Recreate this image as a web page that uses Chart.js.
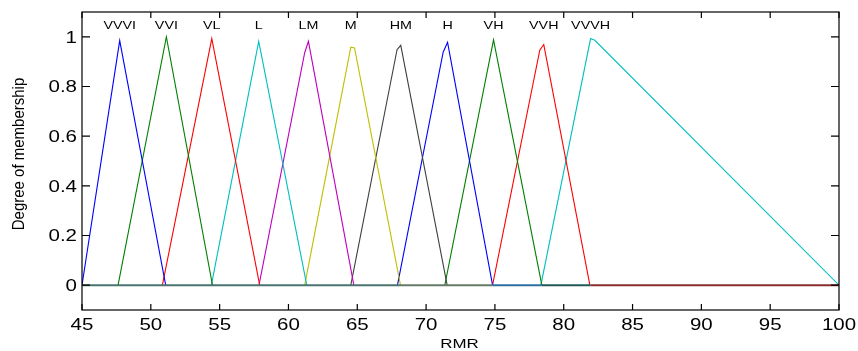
<!DOCTYPE html>
<html>
<head>
<meta charset="utf-8">
<script src="https://cdn.jsdelivr.net/npm/chart.js@4/dist/chart.umd.min.js"></script>
<style>
  html, body { margin: 0; padding: 0; background: #fff; }
  #wrap { width: 858px; height: 351px; }
</style>
</head>
<body>
<div id="wrap"><canvas id="c" width="858" height="351"></canvas></div>
<script>
// Membership functions over RMR (vertices of each piecewise-linear curve)
const mfNames = ['VVVI', 'VVI', 'VL', 'L', 'LM', 'M', 'HM', 'H', 'VH', 'VVH', 'VVVH'];

const vvviX = [45, 47.74, 51.08];          const vvviY = [0, 0.985, 0];
const vviX  = [47.62, 51.13, 54.48];       const vviY  = [0, 1.0, 0];
const vlX   = [50.84, 54.43, 57.91];       const vlY   = [0, 0.993, 0];
const lX    = [54.40, 57.84, 61.33];       const lY    = [0, 0.982, 0];
const lmX   = [57.86, 61.18, 61.45, 64.75]; const lmY  = [0, 0.936, 0.982, 0];
const mX    = [61.18, 64.53, 64.80, 68.14]; const mY   = [0, 0.958, 0.955, 0];
const hmX   = [64.53, 67.89, 68.16, 71.53]; const hmY  = [0, 0.948, 0.966, 0];
const hX    = [67.92, 71.24, 71.56, 74.83]; const hY   = [0, 0.938, 0.978, 0];
const vhX   = [71.36, 74.90, 78.41];       const vhY   = [0, 0.988, 0];
const vvhX  = [74.83, 78.26, 78.55, 81.90]; const vvhY = [0, 0.946, 0.969, 0];
const vvvhX = [78.34, 81.95, 82.26, 100];  const vvvhY = [0, 0.993, 0.986, 0];

const mfX = [vvviX, vviX, vlX, lX, lmX, mX, hmX, hX, vhX, vvhX, vvvhX];
const mfY = [vvviY, vviY, vlY, lY, lmY, mY, hmY, hY, vhY, vvhY, vvvhY];
const mfColors = ['#0000ff', '#008000', '#ff0000', '#00bfbf', '#bf00bf', '#bfbf00',
                  '#404040', '#0000ff', '#008000', '#ff0000', '#00bfbf'];

// Zero line where the curves overlap outside their supports
const baseX = [45, 68.1, 74.85, 78.4, 81.95, 100];
const baseColors = ['#4b7471', '#667a68', '#2d6fa5', '#1f5a55', '#8b2c2c'];

// Axis ticks
const xTicks = [45, 50, 55, 60, 65, 70, 75, 80, 85, 90, 95, 100];
const yTicks = [0, 0.2, 0.4, 0.6, 0.8, 1];
const yTickLabels = ['0', '0.2', '0.4', '0.6', '0.8', '1'];

const FONT = '"Liberation Sans", Arial, Helvetica, sans-serif';

const datasets = [{
  label: 'base',
  data: baseX.map(x => ({ x, y: 0 })),
  borderColor: baseColors[0],
  borderWidth: 2,
  pointRadius: 0,
  showLine: true,
  segment: { borderColor: c => baseColors[c.p0DataIndex] }
}];
mfNames.forEach((name, i) => {
  datasets.push({
    label: name,
    data: mfX[i].map((x, k) => ({ x, y: mfY[i][k] })),
    borderColor: mfColors[i],
    borderWidth: 1.1,
    pointRadius: 0,
    showLine: true,
    tension: 0
  });
});

function stretchedText(ctx, text, x, y, font, align, sx) {
  ctx.save();
  ctx.translate(x, y);
  ctx.scale(sx, 1);
  ctx.font = font;
  ctx.textAlign = align;
  ctx.textBaseline = 'alphabetic';
  ctx.fillText(text, 0, 0);
  ctx.restore();
}

const frame = {
  id: 'frame',
  beforeDraw(chart) {
    const ctx = chart.ctx;
    ctx.save();
    ctx.fillStyle = '#fff';
    ctx.fillRect(0, 0, chart.width, chart.height);
    ctx.restore();
  },
  afterDatasetsDraw(chart) {
    const ctx = chart.ctx;
    const xs = chart.scales.x, ys = chart.scales.y;
    const L = xs.left, R = xs.right, T = ys.top, B = ys.bottom;
    ctx.save();
    ctx.strokeStyle = '#000';
    ctx.lineWidth = 1.2;
    ctx.strokeRect(L, T, R - L, B - T);
    ctx.beginPath();
    xTicks.forEach(v => {
      const px = xs.getPixelForValue(v);
      ctx.moveTo(px, B); ctx.lineTo(px, B - 6);
      ctx.moveTo(px, T); ctx.lineTo(px, T + 6);
    });
    yTicks.forEach(v => {
      const py = ys.getPixelForValue(v);
      ctx.moveTo(L, py); ctx.lineTo(L + 8, py);
      ctx.moveTo(R, py); ctx.lineTo(R - 8, py);
    });
    ctx.stroke();

    ctx.fillStyle = '#000';
    xTicks.forEach(v => {
      stretchedText(ctx, String(v), xs.getPixelForValue(v), B + 20, '16px ' + FONT, 'center', 1.28);
    });
    yTicks.forEach((v, i) => {
      stretchedText(ctx, yTickLabels[i], L - 5, ys.getPixelForValue(v) + 5.8, '16px ' + FONT, 'right', 1.28);
    });

    // Names above each curve's peak
    mfNames.forEach((name, i) => {
      const ys_ = mfY[i];
      let k = 0;
      ys_.forEach((y, j) => { if (y > ys_[k]) k = j; });
      stretchedText(ctx, name, xs.getPixelForValue(mfX[i][k]), ys.getPixelForValue(1.03), '11px ' + FONT, 'center', 1.3);
    });

    // Axis titles
    stretchedText(ctx, 'RMR', (L + R) / 2 - 1, 348, '13px ' + FONT, 'center', 1.3);
    ctx.save();
    ctx.translate(23.5, 154);
    ctx.rotate(-Math.PI / 2);
    ctx.scale(1, 1.12);
    ctx.font = '15px ' + FONT;
    ctx.textAlign = 'center';
    ctx.textBaseline = 'alphabetic';
    ctx.fillText('Degree of membership', 0, 0);
    ctx.restore();
    ctx.restore();
  }
};

new Chart(document.getElementById('c'), {
  type: 'scatter',
  data: { datasets },
  options: {
    responsive: false,
    animation: false,
    events: [],
    layout: { padding: { top: 12, right: 19, left: 0, bottom: 0 } },
    plugins: { legend: { display: false }, tooltip: { enabled: false } },
    scales: {
      x: {
        type: 'linear', min: 45, max: 100,
        grid: { display: false }, border: { display: false },
        ticks: { display: false },
        afterFit: s => { s.height = 41; }
      },
      y: {
        type: 'linear', min: -0.1, max: 1.1,
        grid: { display: false }, border: { display: false },
        ticks: { display: false },
        afterFit: s => { s.width = 82; }
      }
    }
  },
  plugins: [frame]
});
</script>
</body>
</html>
